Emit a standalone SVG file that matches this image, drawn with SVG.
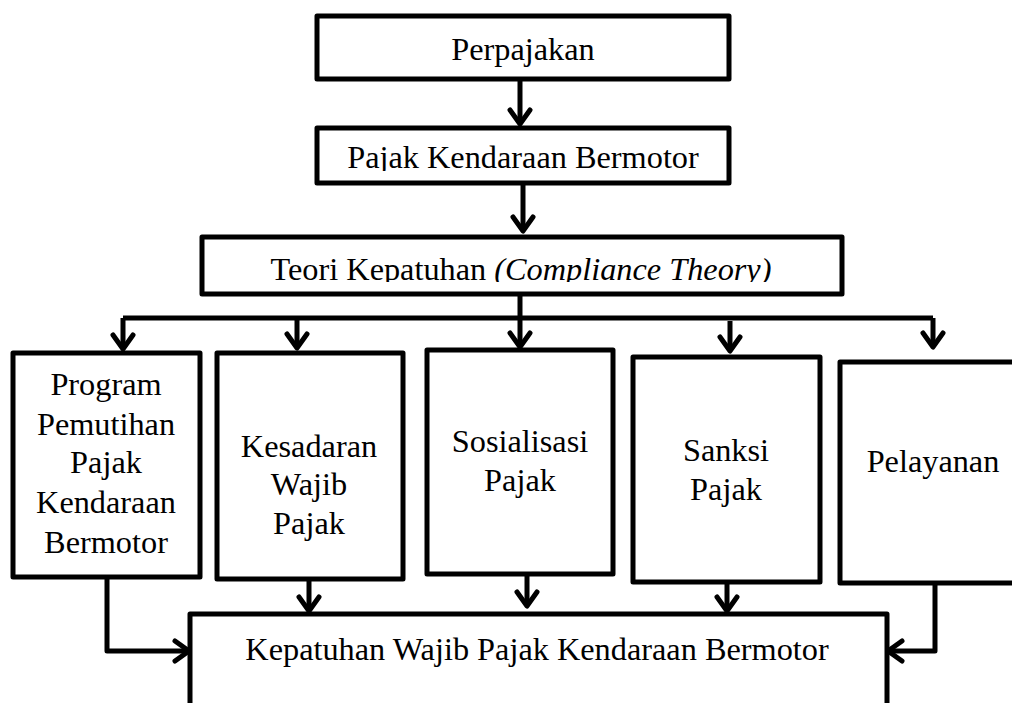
<svg xmlns="http://www.w3.org/2000/svg" width="1012" height="703" viewBox="0 0 1012 703">
<style>
.box{fill:#fff;stroke:#000;stroke-width:5;stroke-linejoin:round}
.t{font-size:32.3px;fill:#000;text-anchor:middle}
.c{fill:none;stroke:#000;stroke-width:5;stroke-linejoin:round}
.a{marker-end:url(#ah)}
</style>
<defs>
<marker id="ah" markerUnits="userSpaceOnUse" markerWidth="40" markerHeight="40" viewBox="-20 -20 40 40" refX="0" refY="0" orient="auto" overflow="visible">
<path d="M-14,-10 L0,0 L-14,10" fill="none" stroke="#000" stroke-width="5" stroke-linecap="round" stroke-linejoin="round"/>
</marker>
<clipPath id="clip2"><rect x="317" y="128" width="412" height="43"/></clipPath>
<clipPath id="clip3"><rect x="202" y="237" width="640" height="45"/></clipPath>
</defs>
<rect width="1012" height="703" fill="#fff"/>
<g font-family="'Liberation Serif', 'Times New Roman', Times, serif">
<g id="perpajakan">
<rect class="box" x="317" y="16" width="412" height="63"/>
<text class="t" x="523" y="60">Perpajakan</text>
</g>
<g id="pkb">
<rect class="box" x="317" y="128" width="412" height="55"/>
<text class="t" x="523" y="168" clip-path="url(#clip2)">Pajak Kendaraan Bermotor</text>
</g>
<g id="teori">
<rect class="box" x="202" y="237" width="640" height="57"/>
<text class="t" x="521" y="280" clip-path="url(#clip3)">Teori Kepatuhan <tspan font-style="italic">(Compliance Theory)</tspan></text>
</g>
<g id="program">
<rect class="box" x="13" y="353" width="187" height="224"/>
<text class="t" x="106" y="395">Program</text>
<text class="t" x="106" y="435">Pemutihan</text>
<text class="t" x="106" y="473">Pajak</text>
<text class="t" x="106" y="513">Kendaraan</text>
<text class="t" x="106" y="553">Bermotor</text>
</g>
<g id="kesadaran">
<rect class="box" x="217" y="353" width="186" height="226"/>
<text class="t" x="309" y="457">Kesadaran</text>
<text class="t" x="309" y="495">Wajib</text>
<text class="t" x="309" y="534">Pajak</text>
</g>
<g id="sosialisasi">
<rect class="box" x="427" y="350" width="186" height="224"/>
<text class="t" x="520" y="452">Sosialisasi</text>
<text class="t" x="520" y="491">Pajak</text>
</g>
<g id="sanksi">
<rect class="box" x="633" y="357" width="187" height="225"/>
<text class="t" x="726" y="461">Sanksi</text>
<text class="t" x="726" y="500">Pajak</text>
</g>
<g id="pelayanan">
<rect class="box" x="840" y="362" width="200" height="221"/>
<text class="t" x="933" y="472">Pelayanan</text>
</g>
<g id="kepatuhan">
<rect class="box" x="190" y="614" width="697" height="120"/>
<text class="t" x="537" y="660">Kepatuhan Wajib Pajak Kendaraan Bermotor</text>
</g>
</g>
<g id="connectors">
<path class="c a" d="M520,79 L520,124"/>
<path class="c a" d="M523,183 L523,231"/>
<path class="c a" d="M520,294 L520,347"/>
<path class="c" d="M123,318 L933,318"/>
<path class="c a" d="M123,318 L123,349"/>
<path class="c a" d="M297,318 L297,348"/>
<path class="c a" d="M730,321 L730,351"/>
<path class="c a" d="M933,318 L933,347"/>
<path class="c a" d="M107,577 L107,651 L189,651"/>
<path class="c a" d="M309,579 L309,611"/>
<path class="c a" d="M527,574 L527,606"/>
<path class="c a" d="M727,582 L727,611"/>
<path class="c a" d="M935,583 L935,651 L888,651"/>
</g>
</svg>
